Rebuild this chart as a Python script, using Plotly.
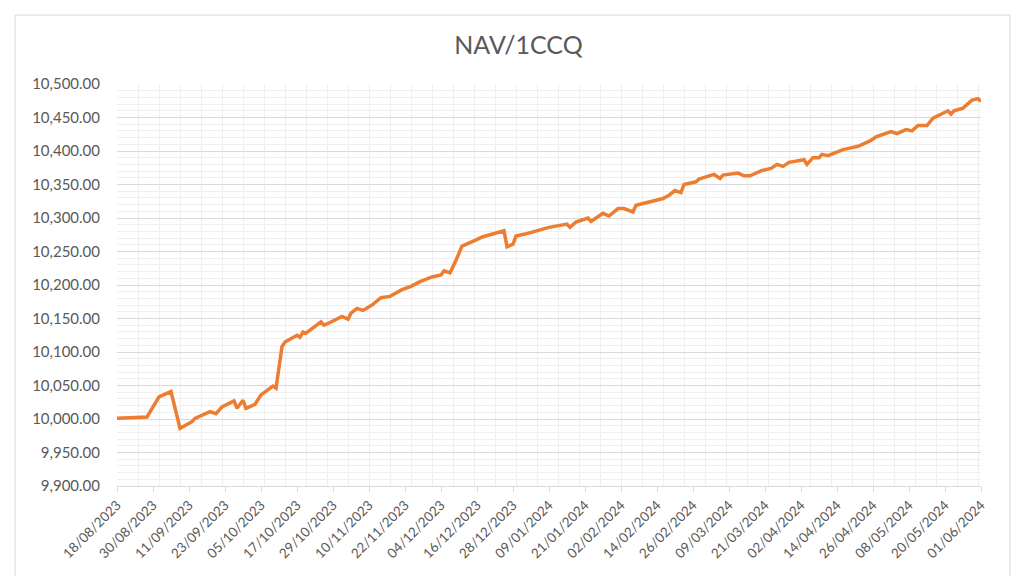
import plotly.graph_objects as go

# NAV per fund certificate
dates = [
    "2023-08-18", "2023-08-28", "2023-09-01", "2023-09-05", "2023-09-08",
    "2023-09-12", "2023-09-13", "2023-09-18", "2023-09-20", "2023-09-22",
    "2023-09-26", "2023-09-27", "2023-09-29", "2023-09-30", "2023-10-03",
    "2023-10-05", "2023-10-09", "2023-10-10", "2023-10-12", "2023-10-13",
    "2023-10-17", "2023-10-18", "2023-10-19", "2023-10-20", "2023-10-25",
    "2023-10-26", "2023-10-28", "2023-11-01", "2023-11-03", "2023-11-04",
    "2023-11-06", "2023-11-08", "2023-11-11", "2023-11-14", "2023-11-17",
    "2023-11-21", "2023-11-24", "2023-11-27", "2023-12-01", "2023-12-04",
    "2023-12-05", "2023-12-07", "2023-12-09", "2023-12-11", "2023-12-15",
    "2023-12-18", "2023-12-25", "2023-12-26", "2023-12-28", "2023-12-29",
    "2024-01-01", "2024-01-09", "2024-01-15", "2024-01-16", "2024-01-18",
    "2024-01-22", "2024-01-23", "2024-01-27", "2024-01-29", "2024-02-01",
    "2024-02-03", "2024-02-06", "2024-02-07", "2024-02-12", "2024-02-16",
    "2024-02-18", "2024-02-20", "2024-02-22", "2024-02-23", "2024-02-27",
    "2024-02-28", "2024-03-04", "2024-03-06", "2024-03-07", "2024-03-12",
    "2024-03-14", "2024-03-16", "2024-03-20", "2024-03-23", "2024-03-25",
    "2024-03-27", "2024-03-29", "2024-04-03", "2024-04-04", "2024-04-06",
    "2024-04-08", "2024-04-09", "2024-04-11", "2024-04-16", "2024-04-19",
    "2024-04-21", "2024-04-25", "2024-04-27", "2024-05-02", "2024-05-04",
    "2024-05-07", "2024-05-09", "2024-05-11", "2024-05-14", "2024-05-16",
    "2024-05-21", "2024-05-22", "2024-05-23", "2024-05-26", "2024-05-29",
    "2024-05-31", "2024-06-01",
]
nav = [
    10001, 10003, 10033, 10041, 9986,
    9996, 10001, 10011, 10008, 10018,
    10027, 10016, 10028, 10016, 10022,
    10036, 10049, 10046, 10108, 10115,
    10125, 10122, 10130, 10128, 10145,
    10140, 10144, 10153, 10149, 10158,
    10165, 10162, 10170, 10181, 10183,
    10193, 10198, 10205, 10212, 10215,
    10221, 10218, 10237, 10258, 10266,
    10272, 10281, 10257, 10261, 10273,
    10276, 10286, 10291, 10286, 10294,
    10300, 10295, 10307, 10303, 10314,
    10314, 10309, 10319, 10324, 10329,
    10334, 10341, 10338, 10350, 10354,
    10358, 10365, 10359, 10364, 10367,
    10363, 10363, 10371, 10374, 10380,
    10377, 10383, 10387, 10380, 10390,
    10390, 10395, 10393, 10402, 10405,
    10407, 10415, 10421, 10429, 10426,
    10432, 10430, 10438, 10438, 10449,
    10460, 10455, 10460, 10464, 10476,
    10478, 10474,
]

# axis labels every 12 days, 18/08/2023 .. 01/06/2024
tick_dates = [
    "2023-08-18", "2023-08-30", "2023-09-11", "2023-09-23", "2023-10-05",
    "2023-10-17", "2023-10-29", "2023-11-10", "2023-11-22", "2023-12-04",
    "2023-12-16", "2023-12-28", "2024-01-09", "2024-01-21", "2024-02-02",
    "2024-02-14", "2024-02-26", "2024-03-09", "2024-03-21", "2024-04-02",
    "2024-04-14", "2024-04-26", "2024-05-08", "2024-05-20", "2024-06-01",
]
tick_text = [d[8:10] + "/" + d[5:7] + "/" + d[0:4] for d in tick_dates]

_TEXT = "#595959"
_GRID = "#d9d9d9"
_MINOR = "#efefef"
_FONT = "Lato, Open Sans, sans-serif"

fig = go.Figure(
    go.Scatter(
        x=dates, y=nav,
        mode="lines",
        line=dict(color="#ED7D31", width=3.5),
        hoverinfo="x+y",
    )
)

# page body adds 8px around the plot div, margins account for it
fig.update_layout(
    width=1021,
    height=576,
    template="none",
    paper_bgcolor="#ffffff",
    plot_bgcolor="#ffffff",
    showlegend=False,
    font=dict(family=_FONT, color=_TEXT, size=14),
    title=dict(
        text="NAV/1CCQ",
        x=0.5, xanchor="center",
        y=0.935, yanchor="middle",
        font=dict(family=_FONT, size=25, color=_TEXT),
    ),
    margin=dict(l=109, r=48, t=76, b=98),
    xaxis=dict(
        type="date",
        range=["2023-08-18", "2024-06-01"],
        tickmode="array",
        tickvals=tick_dates,
        ticktext=tick_text,
        tickangle=-45,
        tickfont=dict(size=13.5, color=_TEXT),
        showgrid=False,
        showline=True,
        linecolor=_GRID,
        ticks="outside",
        ticklen=5,
        tickcolor=_GRID,
        zeroline=False,
        minor=dict(
            tickmode="linear",
            tick0="2023-08-18",
            dtick=7 * 86400000,
            showgrid=True,
            gridcolor=_MINOR,
            gridwidth=1,
            ticks="",
        ),
    ),
    yaxis=dict(
        range=[9900, 10500],
        dtick=50,
        tickformat=",.2f",
        tickfont=dict(size=15, color=_TEXT),
        ticklabelstandoff=16,
        showgrid=True,
        gridcolor=_GRID,
        gridwidth=1,
        zeroline=False,
        showline=False,
        ticks="",
        minor=dict(dtick=10, showgrid=True, gridcolor=_MINOR, gridwidth=1),
    ),
    shapes=[
        # light frame around the chart area
        dict(
            type="rect", xref="paper", yref="paper",
            x0=-0.118, x1=1.0336, y0=-0.3, y1=1.1716,
            line=dict(color="#d9d9d9", width=1),
            fillcolor="rgba(0,0,0,0)",
            layer="below",
        ),
    ],
)

fig.write_html("out.html")
